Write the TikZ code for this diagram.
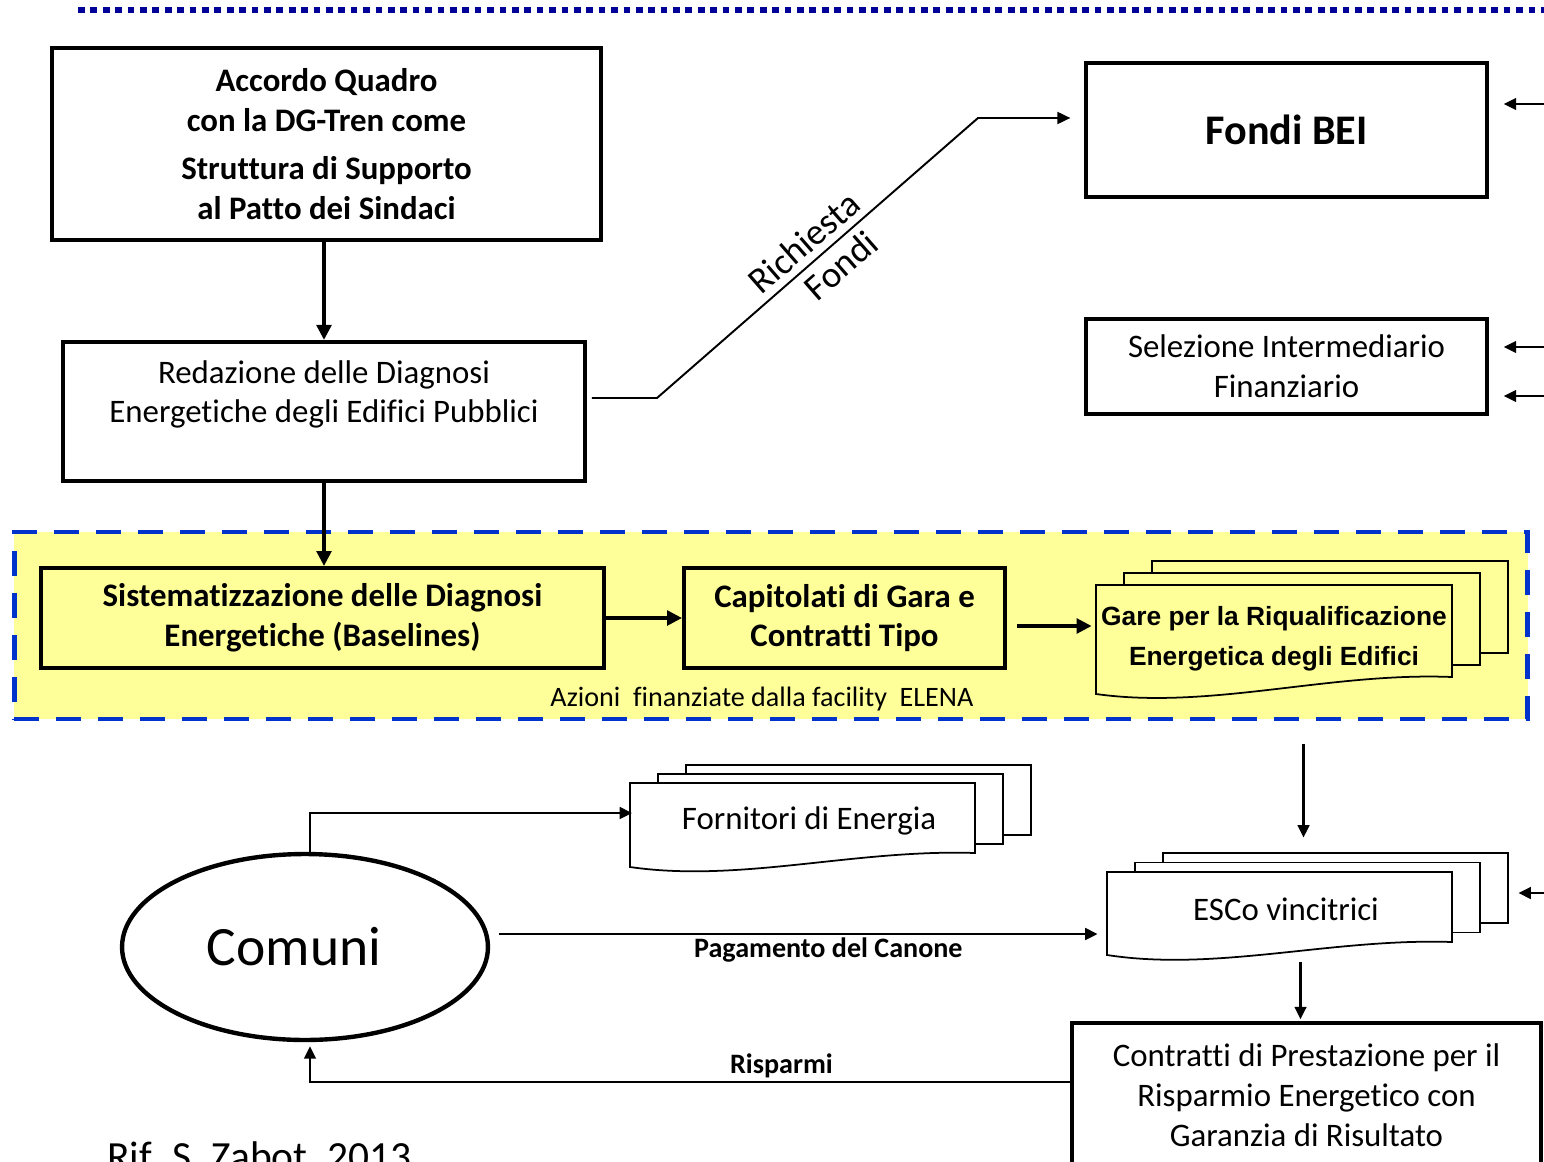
\documentclass[tikz,border=0pt]{standalone}
\usepackage{fontspec}
\setmainfont{Carlito}[Ligatures={NoCommon,NoContextual,NoRequired}, Contextuals=NoAlternate]
\newfontfamily\arialfont{Liberation Sans}
\usepackage{tikz}
\usetikzlibrary{positioning, arrows.meta, shapes.geometric, calc}

\definecolor{giallino}{RGB}{255,255,153}
\definecolor{bluelena}{RGB}{0,51,204}
\definecolor{blunotte}{RGB}{0,0,153}

\begin{document}
\begin{tikzpicture}[
    x=0.02cm, y=-0.02cm,
    scatola/.style={draw, line width=1.9pt, align=center, inner sep=0pt, font=\fontsize{18.7}{22.7}\selectfont},
    grassetto/.style={scatola, line width=2.2pt, font=\fontsize{18.7}{22.7}\selectfont\bfseries},
    pagina/.style={draw, line width=1pt},
    testopila/.style={align=center, inner sep=0pt, font=\fontsize{18.7}{22.7}\selectfont},
    etichetta/.style={font=\fontsize{16}{19}\selectfont\bfseries, inner sep=1.5pt},
    freccia/.style={-{Triangle[length=0.25cm, width=0.23cm]}, line width=1.6pt},
    spessa/.style={-{Triangle[length=0.3cm, width=0.29cm]}, line width=2.4pt}
]
\useasboundingbox (0,0) rectangle (1544,1162);

% Top dotted line
\draw[blunotte, line width=3.8pt, dash pattern=on 0.135cm off 0.113cm] (78,10) -- (1544,10);

% ELENA area
\node[draw=bluelena, fill=giallino, line width=2.8pt, dash pattern=on 0.5cm off 0.34cm, minimum width=30.28cm, minimum height=3.74cm, inner sep=0pt] (elena) at (771,625.5) {};

% Boxes
\node[grassetto, line width=2.4pt, minimum width=10.98cm, minimum height=3.84cm] (accordo) at (326.5,144) {Accordo Quadro\\con la DG-Tren come\\[5pt]Struttura di Supporto\\al Patto dei Sindaci};
\node[scatola, line width=2.3pt, minimum width=10.44cm, minimum height=2.78cm] (redaz) at (324,411.5) {Redazione delle Diagnosi\\Energetiche degli Edifici Pubblici\\\mbox{}};
\node[scatola, minimum width=8.02cm, minimum height=2.68cm, font=\fontsize{24}{29}\selectfont\bfseries] (bei) at (1286.5,130) {Fondi BEI};
\node[scatola, minimum width=8.02cm, minimum height=1.9cm] (selez) at (1286.5,366.5) {Selezione Intermediario\\Finanziario};
\node[grassetto, fill=giallino, minimum width=11.26cm, minimum height=2cm] (sistem) at (322.5,618) {Sistematizzazione delle Diagnosi\\Energetiche (Baselines)};
\node[grassetto, fill=giallino, minimum width=6.42cm, minimum height=2cm] (capit) at (844.5,618) {Capitolati di Gara e\\Contratti Tipo};
\node[font=\fontsize{16}{19}\selectfont] (azioni) at (762,699) {Azioni\ \ finanziate dalla facility\ \ ELENA};

% Gare (document stack)
\foreach \k in {2,1} {
    \draw[pagina, fill=giallino] (1096+28*\k,585-12*\k) rectangle ++(356,92);
}
\draw[pagina, fill=giallino] (1096,585) -- (1452,585) -- (1452,677) .. controls (1330,672) and (1210,710) .. (1096,694) -- cycle;
\node[testopila, minimum width=7.12cm, minimum height=1.84cm, font=\arialfont\bfseries\fontsize{15}{22.7}\selectfont] (gare) at (1274,639) {Gare per la Riqualificazione\\Energetica degli Edifici};

% Fornitori (document stack)
\foreach \k in {2,1} {
    \draw[pagina, fill=white] (630+28*\k,783-9*\k) rectangle ++(345,70);
}
\draw[pagina, fill=white] (630,783) -- (975,783) -- (975,853) .. controls (855,849) and (740,883) .. (630,867) -- cycle;
\node[testopila, minimum width=6.9cm, minimum height=1.4cm] (fornit) at (809,821) {Fornitori di Energia};

% ESCo (document stack)
\foreach \k in {2,1} {
    \draw[pagina, fill=white] (1107+28*\k,872-9.5*\k) rectangle ++(345,70);
}
\draw[pagina, fill=white] (1107,872) -- (1452,872) -- (1452,942) .. controls (1332,938) and (1217,972) .. (1107,955) -- cycle;
\node[testopila, minimum width=6.9cm, minimum height=1.4cm] (esco) at (1286,909) {ESCo vincitrici};

% Comuni and contracts
\node[ellipse, draw, line width=2.5pt, minimum width=7.32cm, minimum height=3.72cm, inner sep=0pt, font=\fontsize{31.6}{38}\selectfont] (comuni) at (305,947) {\hspace*{-0.44cm}Comuni};
\node[scatola, minimum width=9.38cm, minimum height=2.9cm] (contr) at (1306.5,1095.5) {Contratti di Prestazione per il\\Risparmio Energetico con\\Garanzia di Risultato};

\node[anchor=base west, inner sep=0pt, font=\fontsize{23.6}{28}\selectfont] (rif) at (107,1170) {Rif. S. Zabot, 2013};

% Thick arrows
\draw[spessa] (accordo.south -| redaz.north) -- (redaz.north);
\draw[spessa] (redaz.south) -- (redaz.south |- sistem.north);
\draw[spessa] (sistem.east) -- (capit.west);
\draw[spessa] ($(capit.east)+(10,8)$) -- ($(capit.east -| gare.west)+(-4,8)$);

% Richiesta fondi
\coordinate (rf1) at (657,398);
\coordinate (rf2) at (978,118);
\draw[-{Triangle[length=0.26cm, width=0.24cm]}, line width=1.1pt] ($(redaz.east |- rf1)+(5,0)$) -- (rf1) -- (rf2) -- ($(bei.west |- rf2)+(-14,0)$);
\path (rf1) -- (rf2) node[pos=0.5, sloped, above=1pt, font=\fontsize{21}{25}\selectfont] {Richiesta} node[pos=0.53, sloped, below=1pt, font=\fontsize{21}{25}\selectfont] {Fondi};

% Arrows from the right edge
\coordinate (bordo1) at (1544,104);
\coordinate (bordo2) at (1544,347);
\coordinate (bordo3) at (1544,396);
\coordinate (bordo4) at (1544,893);
\draw[freccia] (bordo1) -- ($(bei.east |- bordo1)+(15,0)$);
\draw[freccia] (bordo2) -- ($(selez.east |- bordo2)+(15,0)$);
\draw[freccia] (bordo3) -- ($(selez.east |- bordo3)+(15,0)$);
\draw[freccia] (bordo4) -- ($(esco.east |- bordo4)+(59.5,0)$);

% Flows
\draw[freccia] ($(elena.south -| contr.north)+(-3,23)$) -- ($(esco.north -| contr.north)+(-3,-36)$);
\draw[freccia] ($(esco.south -| contr.north)+(-6,18)$) -- ($(contr.north)+(-6,-2)$);
\draw[freccia] ($(comuni.north)+(5,0)$) |- ($(fornit.west)+(-4,-8)$);
\draw[freccia] ($(comuni.east)+(9,-13)$) -- ($(comuni.east -| esco.west)+(-15.5,-13)$) node[pos=0.55, below, etichetta] {Pagamento del Canone};
\draw[freccia] ($(contr.west)+(0,-13.5)$) -| ($(comuni.south)+(5,4)$) node[pos=0.19, above, etichetta] {Risparmi};

\end{tikzpicture}
\end{document}
